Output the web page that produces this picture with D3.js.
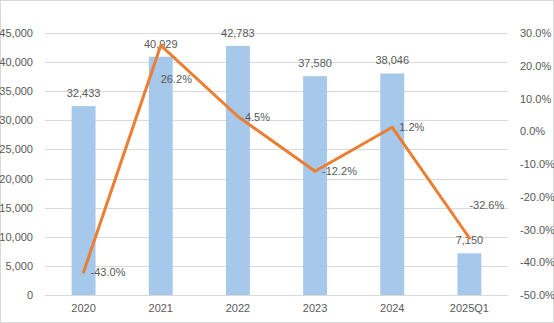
<!DOCTYPE html>
<html><head><meta charset="utf-8">
<script src="https://cdn.jsdelivr.net/npm/d3@7"></script>
<style>body{margin:0;background:#fff}svg{display:block}</style>
</head><body>
<script>
const categories = ["2020","2021","2022","2023","2024","2025Q1"];
const sales = [32433, 40929, 42783, 37580, 38046, 7150];
const growth = [-43.0, 26.2, 4.5, -12.2, 1.2, -32.6];
const growthLabelPlacement = ["right","below","right","right","right","above"];
const leftTicks = [0,5000,10000,15000,20000,25000,30000,35000,40000,45000];
const rightTicks = [-50,-40,-30,-20,-10,0,10,20,30];

const W = 554, H = 323;
const m = {l:45, r:46, t:33, b:28};
const svg = d3.select("body").append("svg").attr("width",W).attr("height",H);
svg.append("rect").attr("x",0.5).attr("y",0.5).attr("width",W-1).attr("height",H-1)
  .attr("fill","#fff").attr("stroke","#D9D9D9");

const x = d3.scaleBand().domain(categories).range([m.l, W-m.r]).paddingInner(0.69).paddingOuter(0.345);
const y = d3.scaleLinear().domain([0,45000]).range([H-m.b, m.t]);
const y2 = d3.scaleLinear().domain([-50,30]).range([H-m.b, m.t]);
const font = "'Liberation Sans', Arial, sans-serif";
const txt = "#595959";
const pct = d => (d<0?"-":"") + Math.abs(d).toFixed(1) + "%";

// grid
svg.append("g").selectAll("line").data(leftTicks).join("line")
  .attr("x1",m.l).attr("x2",W-m.r).attr("y1",d=>Math.round(y(d))+0.5).attr("y2",d=>Math.round(y(d))+0.5)
  .attr("stroke","#D9D9D9").attr("stroke-width",1);

// left axis
const la = svg.append("g").attr("transform",`translate(${m.l-9},0)`)
  .call(d3.axisLeft(y).tickValues(leftTicks).tickSize(0).tickFormat(d3.format(",")));
la.select(".domain").remove();
la.selectAll("text").attr("fill",txt).style("font-family",font).style("font-size","11px");

// right axis
const ra = svg.append("g").attr("transform",`translate(${W-m.r+9},0)`)
  .call(d3.axisRight(y2).tickValues(rightTicks).tickSize(0).tickFormat(pct));
ra.select(".domain").remove();
ra.selectAll("text").attr("fill",txt).style("font-family",font).style("font-size","11px");

// bottom axis
const ba = svg.append("g").attr("transform",`translate(0,${H-m.b})`)
  .call(d3.axisBottom(x).tickSize(0).tickPadding(9));
ba.select(".domain").remove();
ba.selectAll("text").attr("fill",txt).style("font-family",font).style("font-size","11px");

// bars
svg.append("g").selectAll("rect").data(sales).join("rect")
  .attr("x",(d,i)=>x(categories[i])).attr("width",x.bandwidth())
  .attr("y",d=>y(d)).attr("height",d=>y(0)-y(d)).attr("fill","#A5C8EB");

// bar labels
svg.append("g").selectAll("text").data(sales).join("text")
  .attr("x",(d,i)=>x(categories[i])+x.bandwidth()/2).attr("y",d=>y(d)-9)
  .attr("text-anchor","middle").attr("fill",txt).style("font-family",font).style("font-size","11px")
  .text(d=>d3.format(",")(d));

// line
const cx = i => x(categories[i])+x.bandwidth()/2;
svg.append("path").datum(growth)
  .attr("d", d3.line().x((d,i)=>cx(i)).y(d=>y2(d)))
  .attr("fill","none").attr("stroke","#ED7D31").attr("stroke-width",3).attr("stroke-linejoin","round").attr("stroke-linecap","round");

// line labels
svg.append("g").selectAll("text").data(growth).join("text")
  .attr("x",(d,i)=> cx(i) + (growthLabelPlacement[i]==="right"?7:0))
  .attr("y",(d,i)=> y2(d) + (growthLabelPlacement[i]==="right"?4:(growthLabelPlacement[i]==="below"?38:-29)))
  .attr("text-anchor","start").attr("fill",txt).style("font-family",font).style("font-size","11px")
  .text(pct);
</script>
</body></html>
